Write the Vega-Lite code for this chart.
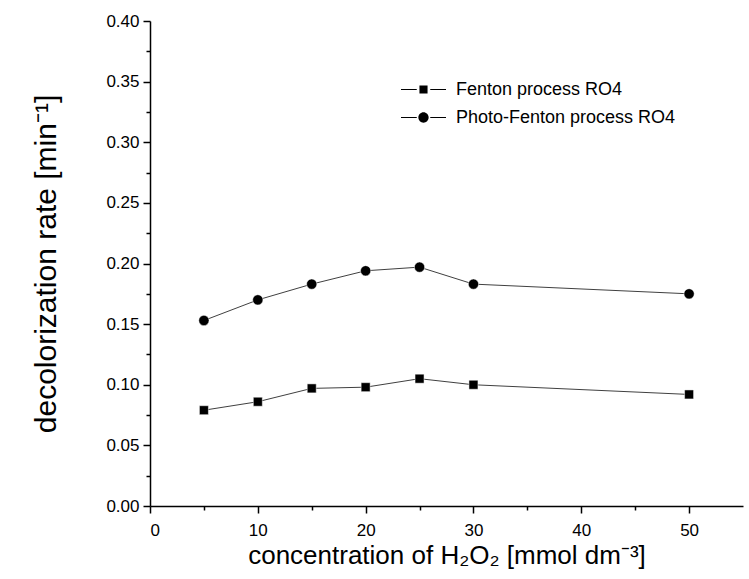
{
  "$schema": "https://vega.github.io/schema/vega-lite/v6.json",
  "width": 593,
  "height": 485,
  "autosize": {"type": "none"},
  "padding": {"left": 150, "top": 21, "right": 6, "bottom": 73},
  "background": "white",
  "config": {
    "view": {"stroke": null},
    "font": "Liberation Sans",
    "axis": {
      "domainColor": "black",
      "domainWidth": 1.5,
      "tickColor": "black",
      "tickWidth": 1.5,
      "labelColor": "black",
      "labelFont": "Liberation Sans",
      "labelFontSize": 17,
      "titleColor": "black",
      "titleFont": "Liberation Sans",
      "titleFontWeight": "normal",
      "grid": false
    }
  },
  "data": {
    "values": [
      {"x": 5, "y": 0.079, "series": "Fenton process RO4"},
      {"x": 10, "y": 0.086, "series": "Fenton process RO4"},
      {"x": 15, "y": 0.097, "series": "Fenton process RO4"},
      {"x": 20, "y": 0.098, "series": "Fenton process RO4"},
      {"x": 25, "y": 0.105, "series": "Fenton process RO4"},
      {"x": 30, "y": 0.100, "series": "Fenton process RO4"},
      {"x": 50, "y": 0.092, "series": "Fenton process RO4"},
      {"x": 5, "y": 0.153, "series": "Photo-Fenton process RO4"},
      {"x": 10, "y": 0.170, "series": "Photo-Fenton process RO4"},
      {"x": 15, "y": 0.183, "series": "Photo-Fenton process RO4"},
      {"x": 20, "y": 0.194, "series": "Photo-Fenton process RO4"},
      {"x": 25, "y": 0.197, "series": "Photo-Fenton process RO4"},
      {"x": 30, "y": 0.183, "series": "Photo-Fenton process RO4"},
      {"x": 50, "y": 0.175, "series": "Photo-Fenton process RO4"}
    ]
  },
  "encoding": {
    "x": {"field": "x", "type": "quantitative", "scale": {"domain": [0, 55], "nice": false, "zero": false}, "axis": null},
    "y": {"field": "y", "type": "quantitative", "scale": {"domain": [0, 0.4], "nice": false}, "axis": null}
  },
  "layer": [
    {
      "mark": {"type": "line", "color": "#404040", "strokeWidth": 1},
      "encoding": {
        "detail": {"field": "series"},
        "x": {
          "field": "x", "type": "quantitative",
          "scale": {"domain": [0, 55], "nice": false, "zero": false},
          "axis": {
            "orient": "bottom",
            "values": [0, 10, 20, 30, 40, 50],
            "format": "d",
            "tickSize": 7,
            "labelPadding": 9,
            "titlePadding": 4,
            "titleFontSize": 26,
            "title": "concentration of H₂O₂ [mmol dm⁻³]"
          }
        },
        "y": {
          "field": "y", "type": "quantitative",
          "scale": {"domain": [0, 0.4], "nice": false},
          "axis": {
            "orient": "left",
            "values": [0, 0.05, 0.1, 0.15, 0.2, 0.25, 0.3, 0.35, 0.4],
            "format": ".2f",
            "tickSize": 7,
            "labelPadding": 4,
            "titlePadding": 44,
            "titleFontSize": 30,
            "title": "decolorization rate [min⁻¹]"
          }
        }
      }
    },
    {
      "mark": {"type": "point", "filled": true, "color": "black", "opacity": 1, "stroke": "white", "strokeWidth": 0.5},
      "encoding": {
        "shape": {"field": "series", "type": "nominal", "scale": {"range": ["square", "circle"]}, "legend": null},
        "size": {"field": "series", "type": "ordinal", "scale": {"range": [81, 106]}, "legend": null}
      }
    },
    {
      "mark": {"type": "point", "filled": true, "color": "black", "opacity": 0},
      "encoding": {
        "shape": {
          "field": "series", "type": "nominal",
          "scale": {"range": [
            "M-1.667,-0.04H-0.5V0.04H-1.667ZM0.5,-0.04H1.667V0.04H0.5ZM-0.3,-0.3H0.3V0.3H-0.3Z",
            "M-1.667,-0.04H-0.5V0.04H-1.667ZM0.5,-0.04H1.667V0.04H0.5ZM-0.38,0A0.38,0.38 0 1,0 0.38,0A0.38,0.38 0 1,0 -0.38,0Z"
          ]},
          "legend": {
            "orient": "none",
            "legendX": 259,
            "legendY": 54,
            "title": null,
            "padding": 0,
            "symbolSize": 729,
            "symbolFillColor": "black",
            "symbolOpacity": 1,
            "labelFontSize": 18,
            "labelFont": "Liberation Sans",
            "labelColor": "black",
            "labelOffset": 18,
            "labelLimit": 0,
            "rowPadding": 4
          }
        }
      }
    },
    {
      "mark": {"type": "point", "opacity": 0},
      "encoding": {
        "x": {
          "field": "x", "type": "quantitative",
          "scale": {"domain": [0, 55], "nice": false, "zero": false},
          "axis": {"orient": "bottom", "values": [5, 15, 25, 35, 45], "labels": false, "domain": false, "tickSize": 4, "title": null}
        },
        "y": {
          "field": "y", "type": "quantitative",
          "scale": {"domain": [0, 0.4], "nice": false},
          "axis": {"orient": "left", "values": [0.025, 0.075, 0.125, 0.175, 0.225, 0.275, 0.325, 0.375], "labels": false, "domain": false, "tickSize": 4, "title": null}
        }
      }
    }
  ],
  "resolve": {"axis": {"x": "independent", "y": "independent"}, "scale": {"shape": "independent", "size": "independent"}}
}
